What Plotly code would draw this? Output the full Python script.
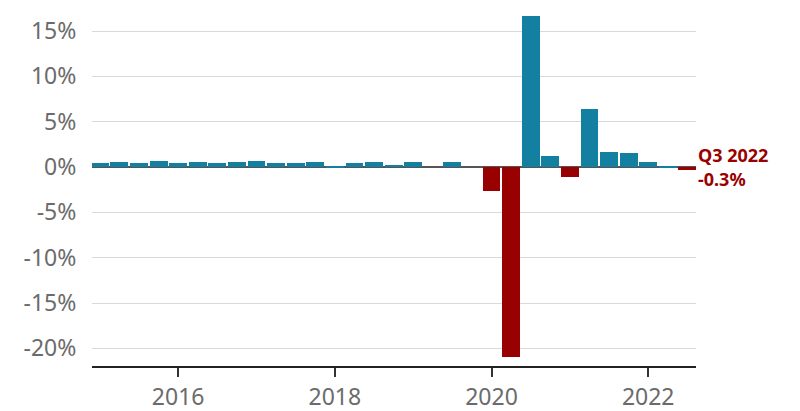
import plotly.graph_objects as go

quarters = [
    "2015 Q1", "2015 Q2", "2015 Q3", "2015 Q4",
    "2016 Q1", "2016 Q2", "2016 Q3", "2016 Q4",
    "2017 Q1", "2017 Q2", "2017 Q3", "2017 Q4",
    "2018 Q1", "2018 Q2", "2018 Q3", "2018 Q4",
    "2019 Q1", "2019 Q2", "2019 Q3", "2019 Q4",
    "2020 Q1", "2020 Q2", "2020 Q3", "2020 Q4",
    "2021 Q1", "2021 Q2", "2021 Q3", "2021 Q4",
    "2022 Q1", "2022 Q2", "2022 Q3",
]
growth = [
    0.4, 0.55, 0.4, 0.7,
    0.4, 0.55, 0.4, 0.55,
    0.7, 0.5, 0.5, 0.55,
    0.05, 0.5, 0.6, 0.25,
    0.6, 0.0, 0.55, 0.0,
    -2.6, -21.0, 16.7, 1.2,
    -1.1, 6.4, 1.7, 1.5,
    0.6, 0.05, -0.3,
]
y_ticks = [-20, -15, -10, -5, 0, 5, 10, 15]
y_labels = ["-20%", "-15%", "-10%", "-5%", "0%", "5%", "10%", "15%"]
x_ticks = [2016, 2018, 2020, 2022]
x_labels = ["2016", "2018", "2020", "2022"]
note_title = "Q3 2022"
note_value = "-0.3%"

def qpos(label):
    y, q = label.split(" Q")
    return int(y) + (int(q) - 1) / 4

xs = [qpos(q) for q in quarters]
BLUE = "#1380A1"
RED = "#990000"
colors = [BLUE if v >= 0 else RED for v in growth]

fig = go.Figure()
fig.add_trace(go.Bar(
    x=xs, y=growth, marker=dict(color=colors, line=dict(width=0)),
    width=0.228, hovertext=quarters,
))

fig.add_annotation(x=xs[-1], y=growth[-1], xref="x", yref="y",
                   text=f"<b>{note_title}</b>",
                   showarrow=False, xanchor="left", yanchor="middle",
                   xshift=9, yshift=15, align="left",
                   font=dict(family="Noto Sans", size=18, color=RED))
fig.add_annotation(x=xs[-1], y=growth[-1], xref="x", yref="y",
                   text=f"<b>{note_value}</b>",
                   showarrow=False, xanchor="left", yanchor="middle",
                   xshift=9, yshift=-9, align="left",
                   font=dict(family="Noto Sans", size=18, color=RED))

fig.update_layout(
    width=800, height=411,
    margin=dict(l=92, r=104, t=8, b=45),
    plot_bgcolor="white", paper_bgcolor="white",
    showlegend=False, bargap=0,
    font=dict(family="Noto Sans", size=23, color="#6b6b6b"),
    xaxis=dict(range=[2014.9, 2022.61], tickvals=x_ticks, ticktext=x_labels,
               automargin=False,
               showgrid=False, zeroline=False, ticks="outside", ticklen=9,
               tickwidth=1.5, tickcolor="#333", showline=True, linecolor="#222",
               linewidth=2, tickfont=dict(size=23, color="#6b6b6b")),
    yaxis=dict(range=[-21.95, 17.55], tickvals=y_ticks, ticktext=y_labels,
               automargin=False,
               showgrid=True, gridcolor="#d9d9d9", gridwidth=1,
               zeroline=True, zerolinecolor="#555", zerolinewidth=1.5,
               ticks="outside", ticklen=10, tickcolor="rgba(0,0,0,0)",
               tickfont=dict(size=23, color="#6b6b6b")),
)

fig.write_html("out.html")
